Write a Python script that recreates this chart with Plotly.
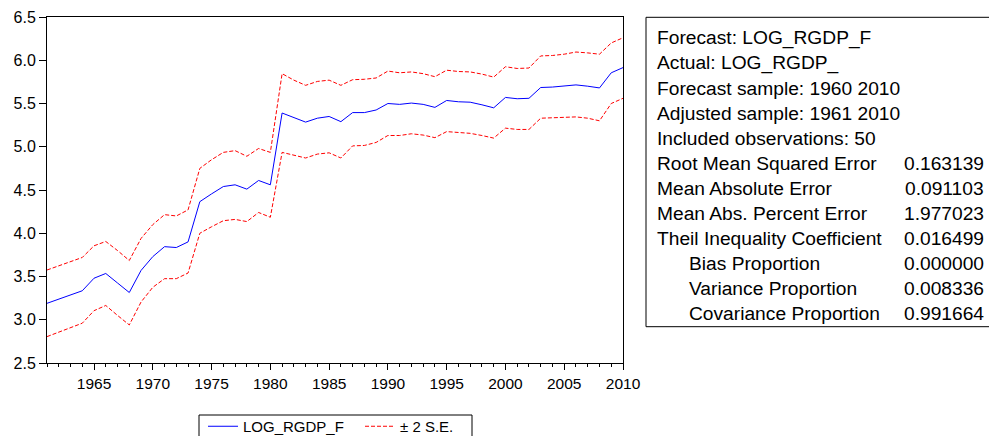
import plotly.graph_objects as go

years = list(range(1961, 2011))

forecast = [3.19, 3.24, 3.29, 3.335, 3.48, 3.535, 3.425, 3.315, 3.57, 3.73,
            3.845, 3.835, 3.90, 4.365, 4.455, 4.54, 4.56, 4.51, 4.61, 4.56,
            5.39, 5.34, 5.285, 5.33, 5.35, 5.29, 5.395, 5.395, 5.425, 5.50,
            5.49, 5.505, 5.49, 5.455, 5.535, 5.52, 5.515, 5.485, 5.45, 5.57,
            5.555, 5.56, 5.685, 5.69, 5.70, 5.715, 5.70, 5.68, 5.855, 5.915]

upper = [3.575, 3.625, 3.67, 3.72, 3.855, 3.905, 3.80, 3.685, 3.94, 4.10,
         4.215, 4.20, 4.27, 4.75, 4.85, 4.935, 4.955, 4.89, 4.98, 4.935,
         5.845, 5.77, 5.71, 5.755, 5.77, 5.71, 5.775, 5.78, 5.795, 5.875,
         5.855, 5.865, 5.845, 5.81, 5.885, 5.87, 5.865, 5.84, 5.805, 5.925,
         5.905, 5.91, 6.05, 6.055, 6.07, 6.095, 6.085, 6.07, 6.20, 6.26]

lower = [2.805, 2.855, 2.91, 2.96, 3.105, 3.165, 3.05, 2.94, 3.205, 3.375,
         3.475, 3.475, 3.54, 4.00, 4.075, 4.145, 4.16, 4.135, 4.24, 4.185,
         4.935, 4.90, 4.87, 4.915, 4.93, 4.87, 5.01, 5.015, 5.05, 5.13,
         5.13, 5.15, 5.135, 5.105, 5.175, 5.165, 5.155, 5.13, 5.10, 5.215,
         5.20, 5.20, 5.33, 5.335, 5.34, 5.345, 5.33, 5.30, 5.50, 5.56]

stat_labels = ["Forecast: LOG_RGDP_F", "Actual: LOG_RGDP_", "Forecast sample: 1960 2010",
               "Adjusted sample: 1961 2010", "Included observations: 50",
               "Root Mean Squared Error", "Mean Absolute Error", "Mean Abs. Percent Error",
               "Theil Inequality Coefficient", "Bias Proportion", "Variance Proportion",
               "Covariance Proportion"]
stat_values = ["", "", "", "", "", "0.163139", "0.091103", "1.977023",
               "0.016499", "0.000000", "0.008336", "0.991664"]
stat_indent = [False] * 9 + [True] * 3

FONT = "Liberation Sans, Arial, sans-serif"
W, H = 989, 436
L, R, T, B = 47, 366, 17, 73
PW, PH = W - L - R, H - T - B
DASH = "4px,2px"


def px(x):
    return (x - L) / PW


def py(y):
    return (H - B - y) / PH


fig = go.Figure()
fig.add_trace(go.Scatter(x=years, y=forecast, mode="lines", name="LOG_RGDP_F",
                         line=dict(color="#0000FF", width=1)))
fig.add_trace(go.Scatter(x=years, y=upper, mode="lines", name="± 2 S.E.",
                         line=dict(color="#FF0000", width=1, dash=DASH)))
fig.add_trace(go.Scatter(x=years, y=lower, mode="lines", name="± 2 S.E.", showlegend=False,
                         line=dict(color="#FF0000", width=1, dash=DASH)))

shapes = [
    # statistics box
    dict(type="rect", xref="paper", yref="paper",
         x0=px(646), x1=px(1000), y0=py(326.7), y1=py(17.3),
         line=dict(color="black", width=1), fillcolor="rgba(0,0,0,0)"),
    # legend frame
    dict(type="rect", xref="paper", yref="paper",
         x0=px(199), x1=px(472), y0=py(450), y1=py(415),
         line=dict(color="black", width=1), fillcolor="rgba(0,0,0,0)"),
]

annotations = []
for i, (lab, val, ind) in enumerate(zip(stat_labels, stat_values, stat_indent)):
    yc = 38.5 + 25 * i
    annotations.append(dict(xref="paper", yref="paper", x=px(687 if ind else 655), y=py(yc),
                            text=lab, showarrow=False, xanchor="left", yanchor="middle",
                            font=dict(family=FONT, size=19.2, color="black")))
    if val:
        annotations.append(dict(xref="paper", yref="paper", x=px(986), y=py(yc),
                                text=val, showarrow=False, xanchor="right", yanchor="middle",
                                font=dict(family=FONT, size=19.2, color="black")))

fig.update_layout(
    width=W, height=H,
    margin=dict(l=L, r=R, t=T, b=B, autoexpand=False),
    paper_bgcolor="white", plot_bgcolor="white",
    font=dict(family=FONT, size=15.5, color="black"),
    shapes=shapes, annotations=annotations,
    legend=dict(orientation="h", x=px(203), y=py(410), xanchor="left", yanchor="top",
                borderwidth=0, font=dict(family=FONT, size=15),
                bgcolor="rgba(0,0,0,0)", entrywidth=112, entrywidthmode="pixels"),
    xaxis=dict(range=[1961, 2010], tickmode="linear", tick0=1965, dtick=5,
               ticks="outside", ticklen=6, tickwidth=1, tickcolor="black",
               showline=True, linecolor="black", linewidth=1, mirror=True,
               showgrid=False, zeroline=False,
               tickfont=dict(family=FONT, size=15.5, color="black"),
               minor=dict(tickmode="linear", tick0=1961, dtick=1, ticks="outside",
                          ticklen=3, tickcolor="black", showgrid=False)),
    yaxis=dict(range=[2.5, 6.5], tickmode="linear", tick0=2.5, dtick=0.5, tickformat=".1f",
               ticks="outside", ticklen=7, tickwidth=1, tickcolor="black",
               showline=True, linecolor="black", linewidth=1, mirror=True,
               showgrid=False, zeroline=False,
               tickfont=dict(family=FONT, size=16, color="black")),
)

fig.write_html("out.html", config={"displayModeBar": False},
               post_script="document.body.style.margin='0px';document.body.style.overflow='hidden';")
